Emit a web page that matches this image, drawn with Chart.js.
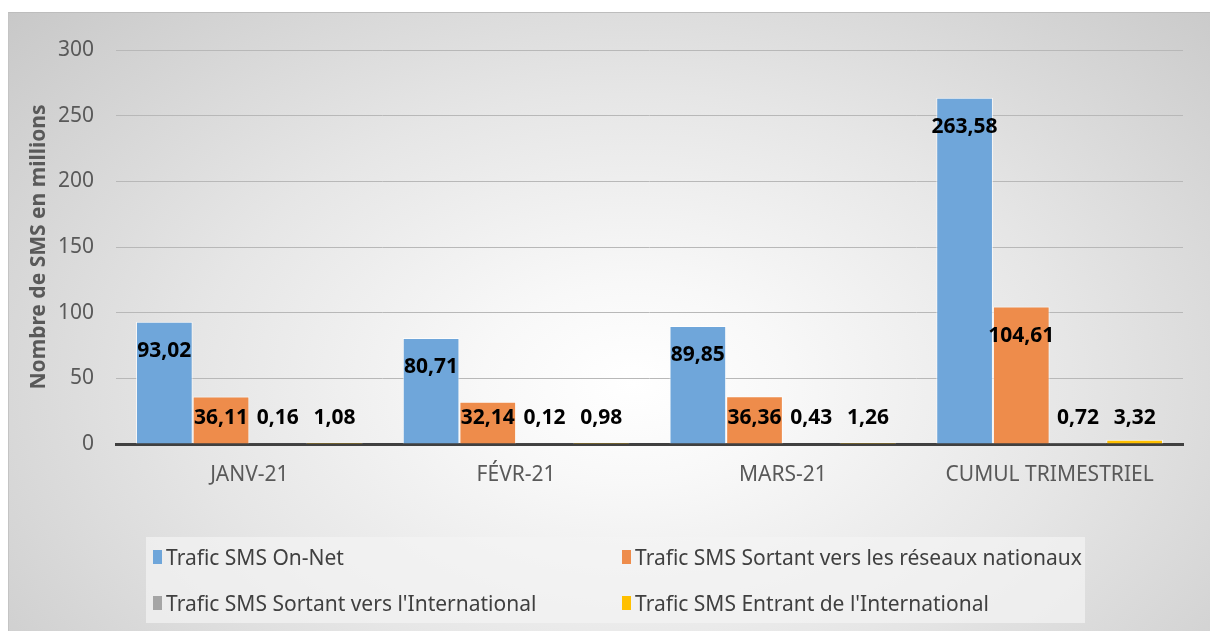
<!DOCTYPE html>
<html>
<head>
<meta charset="utf-8">
<script src="https://cdn.jsdelivr.net/npm/chart.js@4"></script>
<style>
  body { margin: 0; width: 1210px; height: 631px; overflow: hidden; background: #fff; position: relative; }
  #frame {
    position: absolute; left: 8px; top: 12px; width: 1202px; height: 619px;
    border-top: 1px solid #bdbdbd; border-left: 1px solid #c4c4c4; box-sizing: border-box;
    background: radial-gradient(ellipse 70% 90% at 52% 60%, #ffffff 0%, #f8f8f8 18%, #e6e6e6 52%, #c8c8c8 100%);
  }
  #wrap { position: absolute; left: 0; top: 0; width: 1210px; height: 631px; }
  #legend {
    position: absolute; left: 146px; top: 537px; width: 939px; height: 86px;
    background: rgba(244,244,244,0.7);
    font-family: "Noto Sans", sans-serif; font-size: 21px; color: #404040;
  }
  .item { position: absolute; display: flex; align-items: center; white-space: nowrap; }
  .box { width: 9px; height: 14px; margin-right: 4px; }
</style>
</head>
<body>
<div id="frame"></div>
<div id="wrap"><canvas id="smsChart" width="1210" height="631"></canvas></div>
<div id="legend"></div>
<script>
const categories = ['JANV-21', 'FÉVR-21', 'MARS-21', 'CUMUL TRIMESTRIEL'];
const seriesNames = [
    'Trafic SMS On-Net',
    'Trafic SMS Sortant vers les réseaux nationaux',
    "Trafic SMS Sortant vers l'International",
    "Trafic SMS Entrant de l'International"
];
const onNet = [93.02, 80.71, 89.85, 263.58];
const sortantNationaux = [36.11, 32.14, 36.36, 104.61];
const sortantInternational = [0.16, 0.12, 0.43, 0.72];
const entrantInternational = [1.08, 0.98, 1.26, 3.32];
const yTicks = [0, 50, 100, 150, 200, 250, 300];

const colors = ['#6fa6da', '#ee8c4b', '#a5a5a5', '#ffc000'];

// value labels, Excel style: inside end, but never below a minimum height
const valueLabels = {
    id: 'valueLabels',
    afterDatasetsDraw(chart) {
        const ctx = chart.ctx;
        const base = chart.scales.y.getPixelForValue(0);
        ctx.save();
        ctx.font = 'bold 21px "Noto Sans", sans-serif';
        ctx.fillStyle = '#000';
        ctx.textAlign = 'center';
        ctx.textBaseline = 'middle';
        chart.data.datasets.forEach((ds, i) => {
            chart.getDatasetMeta(i).data.forEach((bar, j) => {
                const y = Math.min(bar.y + 29, base - 26);
                ctx.fillText(ds.data[j].toFixed(2).replace('.', ','), bar.x, y);
            });
        });
        ctx.restore();
    }
};

const ctx = document.getElementById('smsChart').getContext('2d');
const chart = new Chart(ctx, {
    type: 'bar',
    data: {
        labels: categories,
        datasets: [onNet, sortantNationaux, sortantInternational, entrantInternational].map((d, i) => ({
            label: seriesNames[i],
            data: d,
            backgroundColor: colors[i],
            borderColor: 'rgba(255,255,255,0.7)',
            borderWidth: 1,
            categoryPercentage: 0.85,
            barPercentage: 1.0
        }))
    },
    options: {
        responsive: false,
        animation: false,
        layout: { padding: { left: 26, top: 50, right: 27, bottom: 0 } },
        plugins: { legend: { display: false }, tooltip: { enabled: false } },
        scales: {
            x: {
                grid: { display: false, drawTicks: false },
                border: { display: true, color: '#404040', width: 3 },
                ticks: { color: '#595959', font: { family: 'Noto Sans', size: 21 }, padding: 18 },
                afterFit(scale) { scale.height = 187; }
            },
            y: {
                min: 0, max: 300,
                afterBuildTicks(scale) { scale.ticks = yTicks.map(v => ({ value: v })); },
                grid: { color: '#b8b8b8', lineWidth: 1, drawTicks: false },
                border: { display: false },
                ticks: { color: '#595959', font: { family: 'Noto Sans', size: 21 }, padding: 22 },
                title: {
                    display: true, text: 'Nombre de SMS en millions', color: '#595959',
                    font: { family: 'Noto Sans', size: 21, weight: 'bold' }, padding: 0
                },
                afterFit(scale) { scale.width = 90; }
            }
        }
    },
    plugins: [valueLabels]
});

// legend in two columns, built from the chart's datasets
const legendPos = [[7, 21], [476, 21], [7, 67], [476, 67]];
const legend = document.getElementById('legend');
chart.data.datasets.forEach((ds, i) => {
    const item = document.createElement('div');
    item.className = 'item';
    item.style.left = legendPos[i][0] + 'px';
    item.style.top = (legendPos[i][1] - 15) + 'px';
    const box = document.createElement('span');
    box.className = 'box';
    box.style.background = ds.backgroundColor;
    const txt = document.createElement('span');
    txt.textContent = ds.label;
    item.appendChild(box);
    item.appendChild(txt);
    legend.appendChild(item);
});
</script>
</body>
</html>
